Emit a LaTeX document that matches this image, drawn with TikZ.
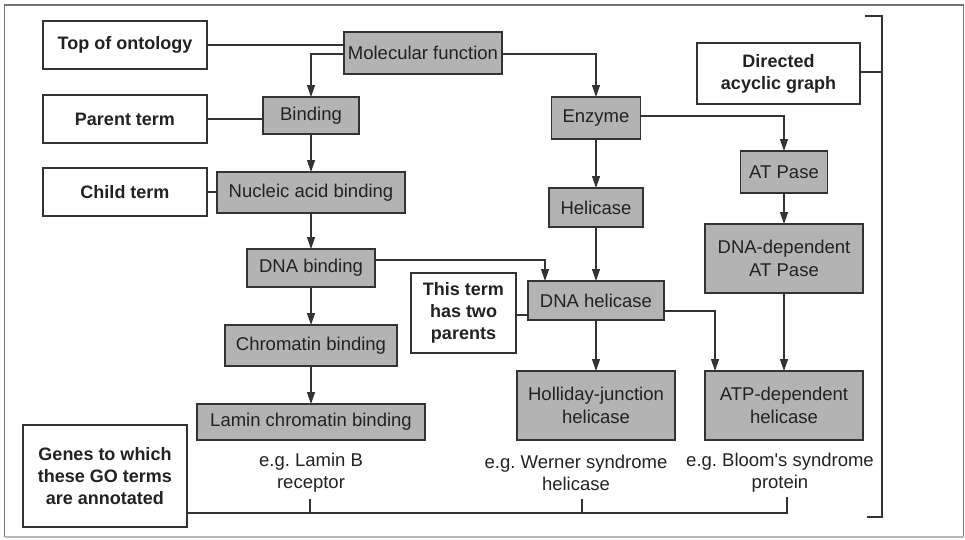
\documentclass[tikz,border=0pt]{standalone}
\usepackage{fontspec}
\setmainfont{Liberation Sans}
\usetikzlibrary{arrows.meta,calc}
\definecolor{boxgray}{HTML}{B3B3B3}
\definecolor{ink}{HTML}{222222}
\definecolor{linec}{HTML}{333333}
\frenchspacing
\begin{document}
\begin{tikzpicture}[x=1pt,y=-1pt,
  every node/.style={inner sep=0pt,outer sep=0pt,text=ink},
  term/.style={draw=linec,line width=1.3pt,fill=boxgray,font=\fontsize{18.5}{22.5}\selectfont,align=center},
  label/.style={draw=linec,line width=1.3pt,fill=white,font=\bfseries\fontsize{18}{22}\selectfont,align=center},
  gene/.style={font=\fontsize{18.5}{22}\selectfont,align=center},
  conn/.style={draw=linec,line width=1.3pt},
  arr/.style={conn,-{Triangle[width=8pt,length=12pt]}}]
\useasboundingbox (0,0) rectangle (965,539);
% frame
\draw[draw=gray!90!black,line width=1.2pt] (4.5,537) -- (4.5,5) -- (963.5,5) -- (963.5,537);
\draw[draw=gray!55,line width=1.2pt] (4.5,537) -- (963.5,537);
% label boxes
\node[label,minimum width=164pt,minimum height=48pt] (topont) at (125,45) {Top of ontology};
\node[label,minimum width=164pt,minimum height=48pt] (parent) at (125,119) {Parent term};
\node[label,minimum width=164pt,minimum height=48pt] (child) at (125,192) {Child term};
\node[label,minimum width=164pt,minimum height=102pt] (genes) at (105,476) {Genes to which\\these GO terms\\are annotated};
\node[label,minimum width=105pt,minimum height=80pt] (twopar) at (463.5,313) {This term\\has two\\parents};
\node[label,minimum width=163pt,minimum height=61pt] (dag) at (778.5,73.5) {Directed\\acyclic graph};
% term boxes
\node[term,minimum width=158pt,minimum height=42pt] (molfun) at (423,53) {Molecular function};
\node[term,minimum width=96pt,minimum height=37pt] (binding) at (311,115.5) {Binding};
\node[term,minimum width=188pt,minimum height=41pt] (nucleic) at (311,192.5) {Nucleic acid binding};
\node[term,minimum width=128pt,minimum height=38pt] (dnabind) at (311,268) {DNA binding};
\node[term,minimum width=172pt,minimum height=41pt] (chrom) at (311,345.5) {Chromatin binding};
\node[term,minimum width=228pt,minimum height=36pt] (lamin) at (311,422) {Lamin chromatin binding};
\node[term,minimum width=89pt,minimum height=42pt] (enzyme) at (596,118) {Enzyme};
\node[term,minimum width=94pt,minimum height=39pt] (helic) at (596,207.5) {Helicase};
\node[term,minimum width=87pt,minimum height=42pt] (atpase) at (784,172) {AT Pase};
\node[term,minimum width=158pt,minimum height=69pt] (dnadep) at (784,258.5) {DNA-dependent\\AT Pase};
\node[term,minimum width=136pt,minimum height=39pt] (dnahel) at (596,300.5) {DNA helicase};
\node[term,minimum width=158pt,minimum height=69pt] (holl) at (596,405.5) {Holliday-junction\\helicase};
\node[term,minimum width=158pt,minimum height=69pt] (atpdep) at (784,405.5) {ATP-dependent\\helicase};
% gene examples
\node[gene] (eglamin) at (311,473) {e.g. Lamin B\\receptor};
\node[gene] (egwern) at (576,473) {e.g. Werner syndrome\\helicase};
\node[gene] (egbloom) at (780,473) {e.g. Bloom\textquotesingle s syndrome\\protein};
% label connectors
\draw[conn] (topont.east) -- (topont.east -| molfun.west);
\draw[conn] (parent.east) -- (parent.east -| binding.west);
\draw[conn] (child.east) -- (child.east -| nucleic.west);
\draw[conn] ([yshift=-2pt]twopar.east) -- ([yshift=-2pt]twopar.east -| dnahel.west);
% DAG bracket
\coordinate (brtop) at (882,16);
\coordinate (brbot) at (882,517);
\draw[conn] (865,16) -- (brtop) -- (brbot) -- (867,517);
\draw[conn] ([yshift=1.5pt]dag.east) -- ([yshift=1.5pt]dag.east -| brtop);
% genes bracket
\coordinate (gl) at (310,513);
\coordinate (gw) at (582,513);
\coordinate (gb) at (787,513);
\draw[conn] ([yshift=-37pt]genes.east) -- (gb) -- (787,497);
\draw[conn] (gl) -- (310,499);
\draw[conn] (gw) -- (582,499);
% arrows
\draw[arr] ([yshift=-1pt]molfun.west) -| (binding.north);
\draw[arr] ([yshift=-1pt]molfun.east) -| (enzyme.north);
\draw[arr] (binding) -- (nucleic);
\draw[arr] (nucleic) -- (dnabind);
\draw[arr] (dnabind) -- (chrom);
\draw[arr] (chrom) -- (lamin);
\draw[arr] ([yshift=8pt]dnabind.east) -| ([xshift=-51pt]dnahel.north);
\draw[arr] (enzyme) -- (helic);
\draw[arr] (helic) -- (dnahel);
\draw[arr] ([yshift=2pt]enzyme.east) -| (atpase.north);
\draw[arr] (atpase) -- (dnadep);
\draw[arr] (dnadep) -- (atpdep);
\draw[arr] (dnahel) -- (holl);
\draw[arr] ([yshift=-10.5pt]dnahel.east) -| ([xshift=-69pt]atpdep.north);
\end{tikzpicture}
\end{document}
